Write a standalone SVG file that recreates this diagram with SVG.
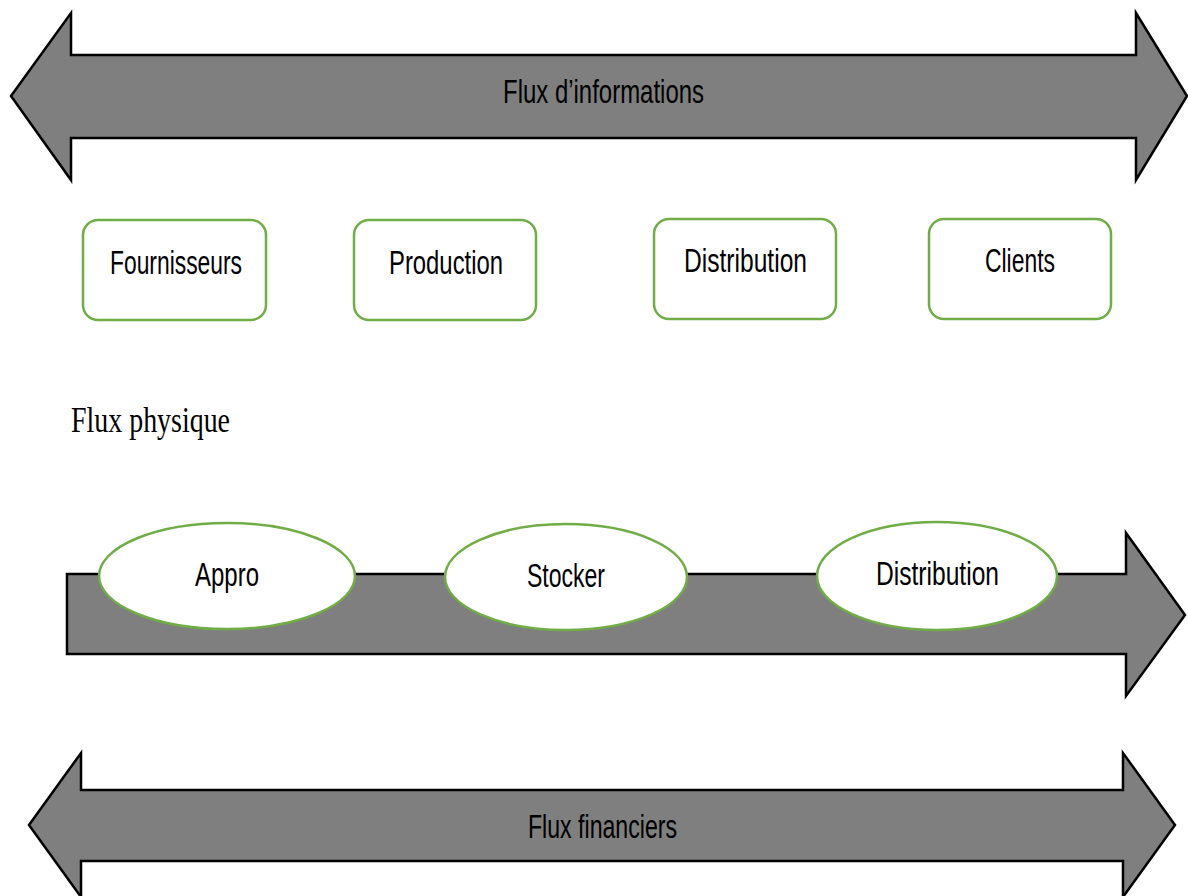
<svg xmlns="http://www.w3.org/2000/svg" width="1188" height="896" viewBox="0 0 1188 896">
  <style>
    .arrow { fill: #7f7f7f; stroke: #000; stroke-width: 2.5; stroke-linejoin: miter; }
    .box { fill: #fff; stroke: #70ad47; stroke-width: 2.5; }
    .lbl { font-family: "Liberation Sans", Arial, sans-serif; font-size: 33px; fill: #000; }
    .serif { font-family: "Liberation Serif", "Times New Roman", serif; font-size: 36px; fill: #000; }
  </style>
  <rect width="1188" height="896" fill="#fff"/>

  <!-- Information flow: double-headed arrow -->
  <g id="flux-informations">
    <path class="arrow" d="M11,96 L71,13 L71,55 L1136,55 L1136,13 L1187,96 L1136,180 L1136,138 L71,138 L71,180 Z"/>
    <text class="lbl" x="503" y="103" textLength="201" lengthAdjust="spacingAndGlyphs">Flux d’informations</text>
  </g>

  <!-- Supply chain actors -->
  <g id="fournisseurs">
    <rect class="box" x="83" y="220" width="183" height="100" rx="15"/>
    <text class="lbl" x="110" y="274" textLength="132" lengthAdjust="spacingAndGlyphs">Fournisseurs</text>
  </g>
  <g id="production">
    <rect class="box" x="354" y="220" width="182" height="100" rx="15"/>
    <text class="lbl" x="389" y="274" textLength="114" lengthAdjust="spacingAndGlyphs">Production</text>
  </g>
  <g id="distribution-acteur">
    <rect class="box" x="654" y="219" width="182" height="100" rx="15"/>
    <text class="lbl" x="684" y="272" textLength="123" lengthAdjust="spacingAndGlyphs">Distribution</text>
  </g>
  <g id="clients">
    <rect class="box" x="929" y="219" width="182" height="100" rx="15"/>
    <text class="lbl" x="985" y="272" textLength="70" lengthAdjust="spacingAndGlyphs">Clients</text>
  </g>

  <!-- Physical flow -->
  <g id="flux-physique-titre">
    <text class="serif" x="71" y="432" textLength="159" lengthAdjust="spacingAndGlyphs">Flux physique</text>
  </g>
  <g id="flux-physique">
    <path class="arrow" d="M67,574 L1126,574 L1126,533 L1185,615 L1126,696 L1126,654 L67,654 Z"/>
  </g>
  <g id="appro">
    <ellipse class="box" cx="227" cy="576" rx="128" ry="53"/>
    <text class="lbl" x="195" y="586" textLength="64" lengthAdjust="spacingAndGlyphs">Appro</text>
  </g>
  <g id="stocker">
    <ellipse class="box" cx="566" cy="577" rx="121" ry="53"/>
    <text class="lbl" x="527" y="587" textLength="78" lengthAdjust="spacingAndGlyphs">Stocker</text>
  </g>
  <g id="distribution-etape">
    <ellipse class="box" cx="937" cy="576" rx="120" ry="54"/>
    <text class="lbl" x="876" y="585" textLength="123" lengthAdjust="spacingAndGlyphs">Distribution</text>
  </g>

  <!-- Financial flow: double-headed arrow -->
  <g id="flux-financiers">
    <path class="arrow" d="M29,825 L81,753 L81,790 L1123,790 L1123,753 L1175,825 L1123,897 L1123,861 L81,861 L81,897 Z"/>
    <text class="lbl" x="528" y="838" textLength="149" lengthAdjust="spacingAndGlyphs">Flux financiers</text>
  </g>
</svg>
